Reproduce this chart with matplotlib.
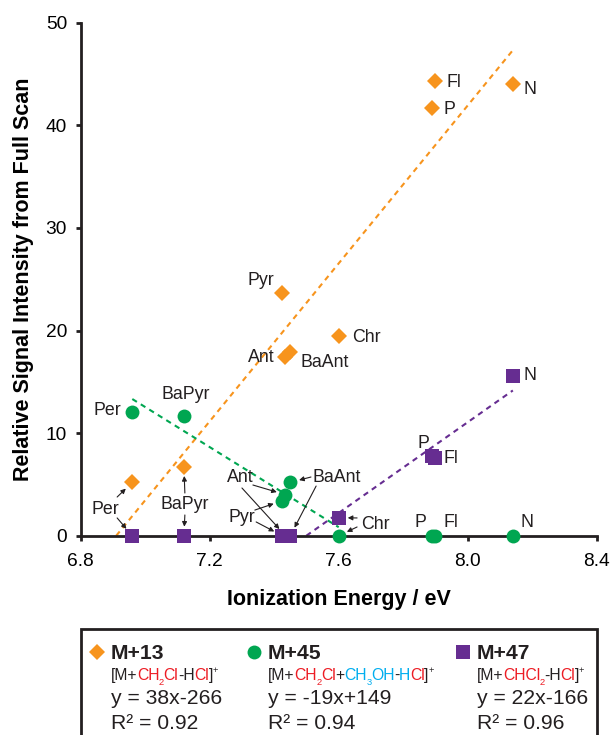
import numpy as np
import matplotlib
matplotlib.use('Agg')
from matplotlib import pyplot as plt
from matplotlib.patches import Rectangle

plt.rcParams['font.family'] = ['Liberation Sans', 'DejaVu Sans']

# ionization energies (eV) and signal intensities for each adduct
compounds = ['Per', 'BaPyr', 'Pyr', 'Ant', 'BaAnt', 'Chr', 'P', 'Fl', 'N']
ie = [6.96, 7.12, 7.425, 7.435, 7.45, 7.60, 7.89, 7.90, 8.14]
m13 = [5.2, 6.7, 23.7, 17.4, 17.9, 19.5, 41.7, 44.3, 44.0]
m45 = [12.1, 11.7, 3.4, 4.0, 5.2, 0, 0, 0, 0]
m47 = [0, 0, 0, 0, 0, 1.75, 7.8, 7.6, 15.6]

# points used in each linear fit
fit13 = [0, 1, 2, 3, 4, 5, 6, 7, 8]
fit45 = [0, 1, 2, 3, 4, 5]
fit47 = [4, 5, 6, 7, 8]

eq13 = 'y = 38x-266'
eq45 = 'y = -19x+149'
eq47 = 'y = 22x-166'
r2_13 = 'R² = 0.92'
r2_45 = 'R² = 0.94'
r2_47 = 'R² = 0.96'

orange = '#F7941D'
green = '#00A651'
purple = '#662D91'
red = '#ED1C24'
cyan = '#00AEEF'
k = '#231F20'

W, H = 612, 735
fig = plt.figure(figsize=(W / 100, H / 100), dpi=100)
ax = fig.add_axes([80.7 / W, 1 - 535.7 / H, 516 / W, 513 / H])

x = np.array(ie)


def fit_line(y, idx, color):
    xs, ys = x[idx], np.array(y)[idx]
    slope, b = np.polyfit(xs, ys, 1)
    lo = -b / slope if slope > 0 else xs.min()
    xx = np.array([lo, xs.max()])
    ax.plot(xx, slope * xx + b, color=color, lw=1.5, ls=(0, (2.6, 2.2)), zorder=2)


fit_line(m13, fit13, orange)
fit_line(m45, fit45, green)
fit_line(m47, fit47, purple)

ax.plot(x, m13, 'D', color=orange, ms=7.8, mew=0, zorder=4, clip_on=False)
ax.plot(x, m45, 'o', color=green, ms=10, mew=0, zorder=4, clip_on=False)
ax.plot(x, m47, 's', color=purple, ms=9.6, mew=0, zorder=5, clip_on=False)

ax.set_xlim(6.8, 8.4)
ax.set_ylim(0, 50)
ax.set_xticks([6.8, 7.2, 7.6, 8.0, 8.4])
ax.set_xticklabels(['6.8', '7.2', '7.6', '8.0', '8.4'])
ax.set_yticks([0, 10, 20, 30, 40, 50])
for s in ['top', 'right']:
    ax.spines[s].set_visible(False)
for s in ['left', 'bottom']:
    ax.spines[s].set_linewidth(2)
    ax.spines[s].set_color(k)
ax.tick_params(axis='both', direction='out', length=3.6, width=2, labelsize=13.8, color=k)
ax.tick_params(axis='x', pad=8.5)
ax.tick_params(axis='y', pad=6.2)

ax.set_xlabel('Ionization Energy / eV', fontsize=15.5, fontweight='bold', va='baseline')
ax.xaxis.set_label_coords(0.5, (535.7 - 605) / 513)
ax.set_ylabel('Relative Signal Intensity from Full Scan', fontsize=15.5, fontweight='bold', va='baseline')
ax.yaxis.set_label_coords((29 - 80.7) / 516, 0.5)

lab_fs = 12.8

# single labels next to the markers: (series, compound index, dx, dy in points, ha)
single = [
    (m13, 7, 8, -1, 'left'), (m13, 6, 8, -1, 'left'), (m13, 8, 7.5, -4, 'left'),
    (m13, 2, -5.5, 8.5, 'right'), (m13, 5, 9.5, -1, 'left'), (m13, 3, -8, 0, 'right'),
    (m13, 4, 7, -7.5, 'left'),
    (m45, 0, -8, 1, 'right'), (m45, 1, 1.5, 15.5, 'center'),
    (m45, 6, -8.5, 9.5, 'center'), (m45, 7, 11, 9.5, 'center'), (m45, 8, 10, 9.5, 'center'),
    (m47, 6, -6.5, 9, 'center'), (m47, 7, 5.5, -0.5, 'left'), (m47, 8, 8, 0, 'left'),
]
for ys, i, dx, dy, ha in single:
    ax.annotate(compounds[i], (ie[i], ys[i]), xytext=(dx, dy), textcoords='offset points',
                ha=ha, va='center', fontsize=lab_fs, color=k, zorder=6)

# shared labels with arrows to markers of two series
shared = [
    ('Per', (6.878, 2.6), [((6.913, 3.77), m13, 0), ((6.913, 1.73), m47, 0)]),
    ('BaPyr', (7.123, 3.0), [((7.123, 4.16), m13, 1), ((7.123, 2.02), m47, 1)]),
    ('Ant', (7.294, 5.7), [((7.334, 4.94), m45, 3), ((7.300, 4.65), m47, 3)]),
    ('Pyr', (7.300, 1.8), [((7.340, 2.50), m45, 2), ((7.344, 1.34), m47, 2)]),
    ('BaAnt', (7.595, 5.7), [((7.514, 5.72), m45, 4), ((7.530, 4.84), m47, 4)]),
    ('Chr', (7.713, 1.1), [((7.657, 1.73), m47, 5), ((7.657, 0.85), m45, 5)]),
]
for name, pos, arrows in shared:
    ax.text(pos[0], pos[1], name, ha='center', va='center', fontsize=lab_fs, color=k, zorder=6)
    for start, ys, i in arrows:
        ax.annotate('', xy=(ie[i], ys[i]), xytext=start,
                    arrowprops=dict(arrowstyle='-|>', color=k, lw=0.8,
                                    shrinkA=0, shrinkB=6.5, mutation_scale=7), zorder=6)

# legend box below the axes
fig.patches.append(Rectangle((80.7 / W, -0.05), 516 / W, 0.05 + 1 - 628.5 / H,
                             transform=fig.transFigure, fill=False, lw=2, ec=k))

renderer = fig.canvas.get_renderer()


def advance(s, fs):
    # width of s including its trailing spacing, measured against a bar glyph
    t1 = fig.text(0, 0, s + '|', fontsize=fs)
    t2 = fig.text(0, 0, '|', fontsize=fs)
    w = t1.get_window_extent(renderer).width - t2.get_window_extent(renderer).width
    t1.remove()
    t2.remove()
    return w


def pieces_text(x0, base, pieces, size):
    xp = x0
    for s, c, kind in pieces:
        fs = size * 0.6 if kind else size
        dy = {'sub': -0.32, 'sup': 0.45}.get(kind, 0) * size * 100 / 72
        fig.text(xp / W, 1 - (base - dy) / H, s, color=c, fontsize=fs, ha='left', va='baseline')
        xp += advance(s, fs) - 0.4


formula13 = [('[M+', k, None), ('CH', red, None), ('2', red, 'sub'), ('Cl', red, None),
             ('-H', k, None), ('Cl', red, None), (']', k, None), ('+', k, 'sup')]
formula45 = [('[M+', k, None), ('CH', red, None), ('2', red, 'sub'), ('Cl', red, None),
             ('+', k, None), ('CH', cyan, None), ('3', cyan, 'sub'), ('OH', cyan, None),
             ('-', k, None), ('H', cyan, None), ('Cl', red, None), (']', k, None), ('+', k, 'sup')]
formula47 = [('[M+', k, None), ('CHCl', red, None), ('2', red, 'sub'), ('-H', k, None),
             ('Cl', red, None), (']', k, None), ('+', k, 'sup')]

legend_cols = [
    (96.7, 110.7, 'D', 7.8, orange, 'M+13', formula13, eq13, r2_13),
    (254, 268, 'o', 10, green, 'M+45', formula45, eq45, r2_45),
    (462.7, 476.7, 's', 9.6, purple, 'M+47', formula47, eq47, r2_47),
]
for mx, tx, mk, ms, col, name, formula, eq, r2 in legend_cols:
    fig.lines.append(plt.Line2D([mx / W], [1 - 651.7 / H], marker=mk, ms=ms, color=col, mew=0,
                                ls='none', transform=fig.transFigure))
    fig.text(tx / W, 1 - 659 / H, name, fontsize=15.2, fontweight='bold', color=k, va='baseline')
    pieces_text(tx, 680, formula, 11.3)
    fig.text(tx / W, 1 - 704.3 / H, eq, fontsize=15.2, color=k, va='baseline')
    fig.text(tx / W, 1 - 729.3 / H, r2, fontsize=15.2, color=k, va='baseline')

fig.savefig('out.png', dpi=100)
